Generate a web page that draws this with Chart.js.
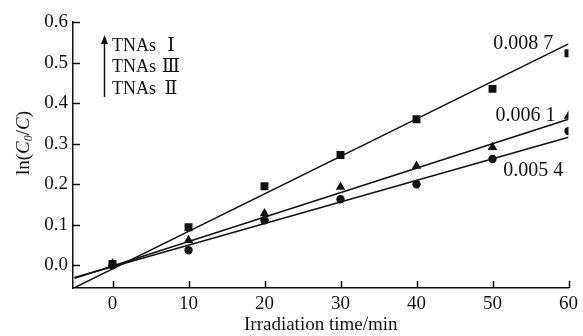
<!DOCTYPE html>
<html>
<head>
<meta charset="utf-8">
<script src="https://cdn.jsdelivr.net/npm/chart.js@4.4.0/dist/chart.umd.min.js"></script>
<style>
  html, body { margin: 0; padding: 0; background: #fff; }
  #wrap { width: 583px; height: 336px; }
</style>
</head>
<body>
<div id="wrap"><canvas id="chart" width="583" height="336"></canvas></div>
<script>
// DATA
const times = [0, 10, 20, 30, 40, 50, 60];
const tnas1 = [0.003, 0.094, 0.195, 0.272, 0.36, 0.435, 0.523];
const tnas3 = [0.004, 0.062, 0.128, 0.193, 0.245, 0.291, 0.368];
const tnas2 = [0.0, 0.037, 0.111, 0.163, 0.2, 0.262, 0.331];

// fitted lines, read at the two ends of the x axis
const fitX = [-5, 60];
const fit1 = [-0.055, 0.546];
const fit3 = [-0.032, 0.36];
const fit2 = [-0.03, 0.316];

const slopes = ["0.008 7", "0.006 1", "0.005 4"];
const legendName = "TNAs";
const legendNums = ["\u2160", "\u2162", "\u2161"];

const xTicks = [0, 10, 20, 30, 40, 50, 60];
const yTicks = [0, 0.1, 0.2, 0.3, 0.4, 0.5, 0.6];

const FONT = "'Liberation Serif', 'Times New Roman', serif";

function pts(xs, ys){
  return xs.map((x, i) => ({x: x, y: ys[i]}));
}

function scatterSet(data, style, r){
  return {
    type: "scatter",
    data: pts(times, data),
    pointStyle: style,
    pointRadius: r,
    backgroundColor: "#111",
    borderColor: "#111",
    borderWidth: 0
  };
}

function fitSet(data){
  return {
    type: "line",
    data: pts(fitX, data),
    borderColor: "#111",
    borderWidth: 1.6,
    pointRadius: 0,
    fill: false
  };
}

// inward tick marks, titles, labels
const extras = {
  id: "extras",
  afterDraw(chart){
    const c = chart.ctx;
    const xs = chart.scales.x, ys = chart.scales.y;
    const area = chart.chartArea;
    c.save();
    c.strokeStyle = "#111";
    c.fillStyle = "#111";
    c.lineWidth = 1.5;

    // ticks
    c.beginPath();
    xTicks.forEach(v => {
      let px = Math.round(xs.getPixelForValue(v)) + 0.5;
      c.moveTo(px, area.bottom);
      c.lineTo(px, area.bottom - 7);
    });
    yTicks.forEach(v => {
      let py = Math.round(ys.getPixelForValue(v)) + 0.5;
      c.moveTo(area.left, py);
      c.lineTo(area.left + 7, py);
    });
    c.stroke();

    // y title: ln(C0/C)
    c.save();
    c.translate(24, 143);
    c.rotate(-Math.PI / 2);
    c.textBaseline = "middle";
    const parts = [
      ["ln(", "19px " + FONT, 0],
      ["C", "italic 19px " + FONT, 0],
      ["0", "italic 12px " + FONT, 5],
      ["/", "19px " + FONT, 0],
      ["C", "italic 19px " + FONT, 0],
      [")", "19px " + FONT, 0]
    ];
    let total = 0;
    parts.forEach(p => { c.font = p[1]; total += c.measureText(p[0]).width; });
    let cx = -total / 2;
    parts.forEach(p => {
      c.font = p[1];
      c.fillText(p[0], cx, p[2]);
      cx += c.measureText(p[0]).width;
    });
    c.restore();

    // slope labels
    c.font = "20px " + FONT;
    c.textBaseline = "middle";
    c.textAlign = "left";
    c.fillText(slopes[0], xs.getPixelForValue(50.1), ys.getPixelForValue(0.547));
    c.fillText(slopes[1], xs.getPixelForValue(50.4), ys.getPixelForValue(0.37));
    c.fillText(slopes[2], xs.getPixelForValue(51.4), ys.getPixelForValue(0.232));

    // legend with arrow
    let ax = 104.5;
    c.lineWidth = 1.5;
    c.beginPath();
    c.moveTo(ax, 97);
    c.lineTo(ax, 41);
    c.stroke();
    c.beginPath();
    c.moveTo(ax, 35);
    c.lineTo(ax - 3.5, 44);
    c.lineTo(ax + 3.5, 44);
    c.closePath();
    c.fill();
    legendNums.forEach((t, i) => {
      let ly = 46 + i * 21.5;
      c.textAlign = "left";
      c.font = "18px " + FONT;
      c.fillText(legendName, 112, ly);
      c.textAlign = "center";
      c.font = "19px 'DejaVu Serif', " + FONT;
      c.fillText(t, 171, ly);
    });
    c.restore();
  }
};

new Chart(document.getElementById("chart"), {
  data: {
    datasets: [
      fitSet(fit1),
      fitSet(fit3),
      fitSet(fit2),
      scatterSet(tnas1, "rect", 5.6),
      scatterSet(tnas3, "triangle", 5.5),
      scatterSet(tnas2, "circle", 4.2)
    ]
  },
  options: {
    responsive: false,
    animation: false,
    layout: { padding: { top: 22, right: 11, left: 0, bottom: 0 } },
    plugins: {
      legend: { display: false },
      tooltip: { enabled: false }
    },
    scales: {
      x: {
        type: "linear",
        min: -5.2,
        max: 60,
        afterBuildTicks: s => { s.ticks = xTicks.map(v => ({value: v})); },
        afterFit: s => { s.height = 48; },
        grid: { display: false, drawTicks: false },
        border: { display: true, color: "#111", width: 1.5 },
        ticks: {
          color: "#111",
          padding: 5,
          maxRotation: 0,
          font: { family: FONT, size: 19 }
        },
        title: {
          display: true,
          text: "Irradiation time/min",
          color: "#111",
          padding: 0,
          font: { family: FONT, size: 19 }
        }
      },
      y: {
        type: "linear",
        min: -0.056,
        max: 0.6,
        afterBuildTicks: s => { s.ticks = yTicks.map(v => ({value: v})); },
        afterFit: s => { s.width = 73; },
        grid: { display: false, drawTicks: false },
        border: { display: true, color: "#111", width: 1.5 },
        ticks: {
          color: "#111",
          padding: 5,
          font: { family: FONT, size: 19 },
          callback: v => v.toFixed(1)
        }
      }
    }
  },
  plugins: [extras]
});
</script>
</body>
</html>
